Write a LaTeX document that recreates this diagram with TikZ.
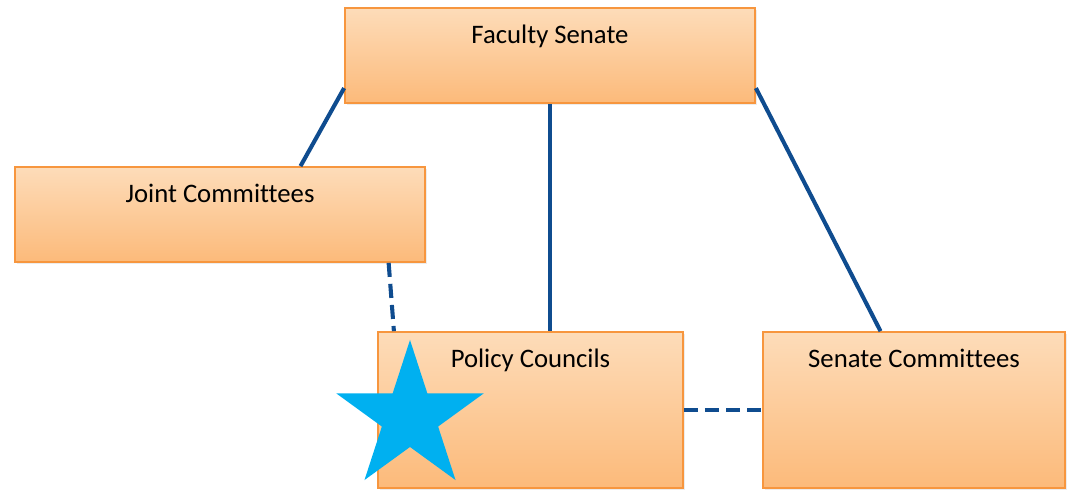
\documentclass[tikz,border=0pt]{standalone}
\usepackage{fontspec}
\setmainfont{Carlito}[Ligatures=NoCommon]
\usepackage{tikz}
\usepackage{xcolor}
\usetikzlibrary{positioning, shapes, shadows}

\definecolor{boxtop}{HTML}{FDDCB9}
\definecolor{boxbottom}{HTML}{FCBA7A}
\definecolor{boxline}{HTML}{F7963E}
\definecolor{linkblue}{HTML}{0F4C8F}
\definecolor{starblue}{HTML}{00B0F0}

\begin{document}
\begin{tikzpicture}[x=0.025cm, y=-0.025cm,
                    unit/.style={rectangle, draw=boxline, line width=1.2pt, top color=boxtop, bottom color=boxbottom,
                                 drop shadow={opacity=0.15, shadow xshift=0.06cm, shadow yshift=-0.06cm}, inner sep=0pt},
                    caption/.style={anchor=base, yshift=-0.9cm, font=\fontsize{19}{22}\selectfont},
                    link/.style={draw=linkblue, line width=2.9pt},
                    loose/.style={link, dash pattern=on 10pt off 5pt}]
                    \useasboundingbox (0, 0) rectangle (1067, 490);

                    \node[unit, minimum width=10.25cm, minimum height=2.375cm, label={[caption]north:Faculty Senate}] (fs) at (550, 55.5) {};
                    \node[unit, minimum width=10.25cm, minimum height=2.375cm, label={[caption]north:Joint Committees}] (jc) at (220, 214.5) {};
                    \node[unit, minimum width=7.625cm, minimum height=3.9cm, label={[caption]north:Policy Councils}] (pc) at (530.5, 410) {};
                    \node[unit, minimum width=7.55cm, minimum height=3.9cm, label={[caption]north:Senate Committees}] (sc) at (914, 410) {};

                    \draw[link] (fs.189.5) -- (jc.31);
                    \draw[link] (fs.south) -- (fs.south |- pc.north);
                    \draw[link] (fs.-9.5) -- (sc.113.6);
                    \draw[loose] (jc.-16.5) -- (pc.150.4);
                    \draw[loose] (pc.east) -- (sc.west);

                    \node[star, star points=5, star point ratio=2.618, minimum size=3.87cm, inner sep=0pt, fill=starblue] (mark) at (410, 417.4) {};
                \end{tikzpicture}
\end{document}
